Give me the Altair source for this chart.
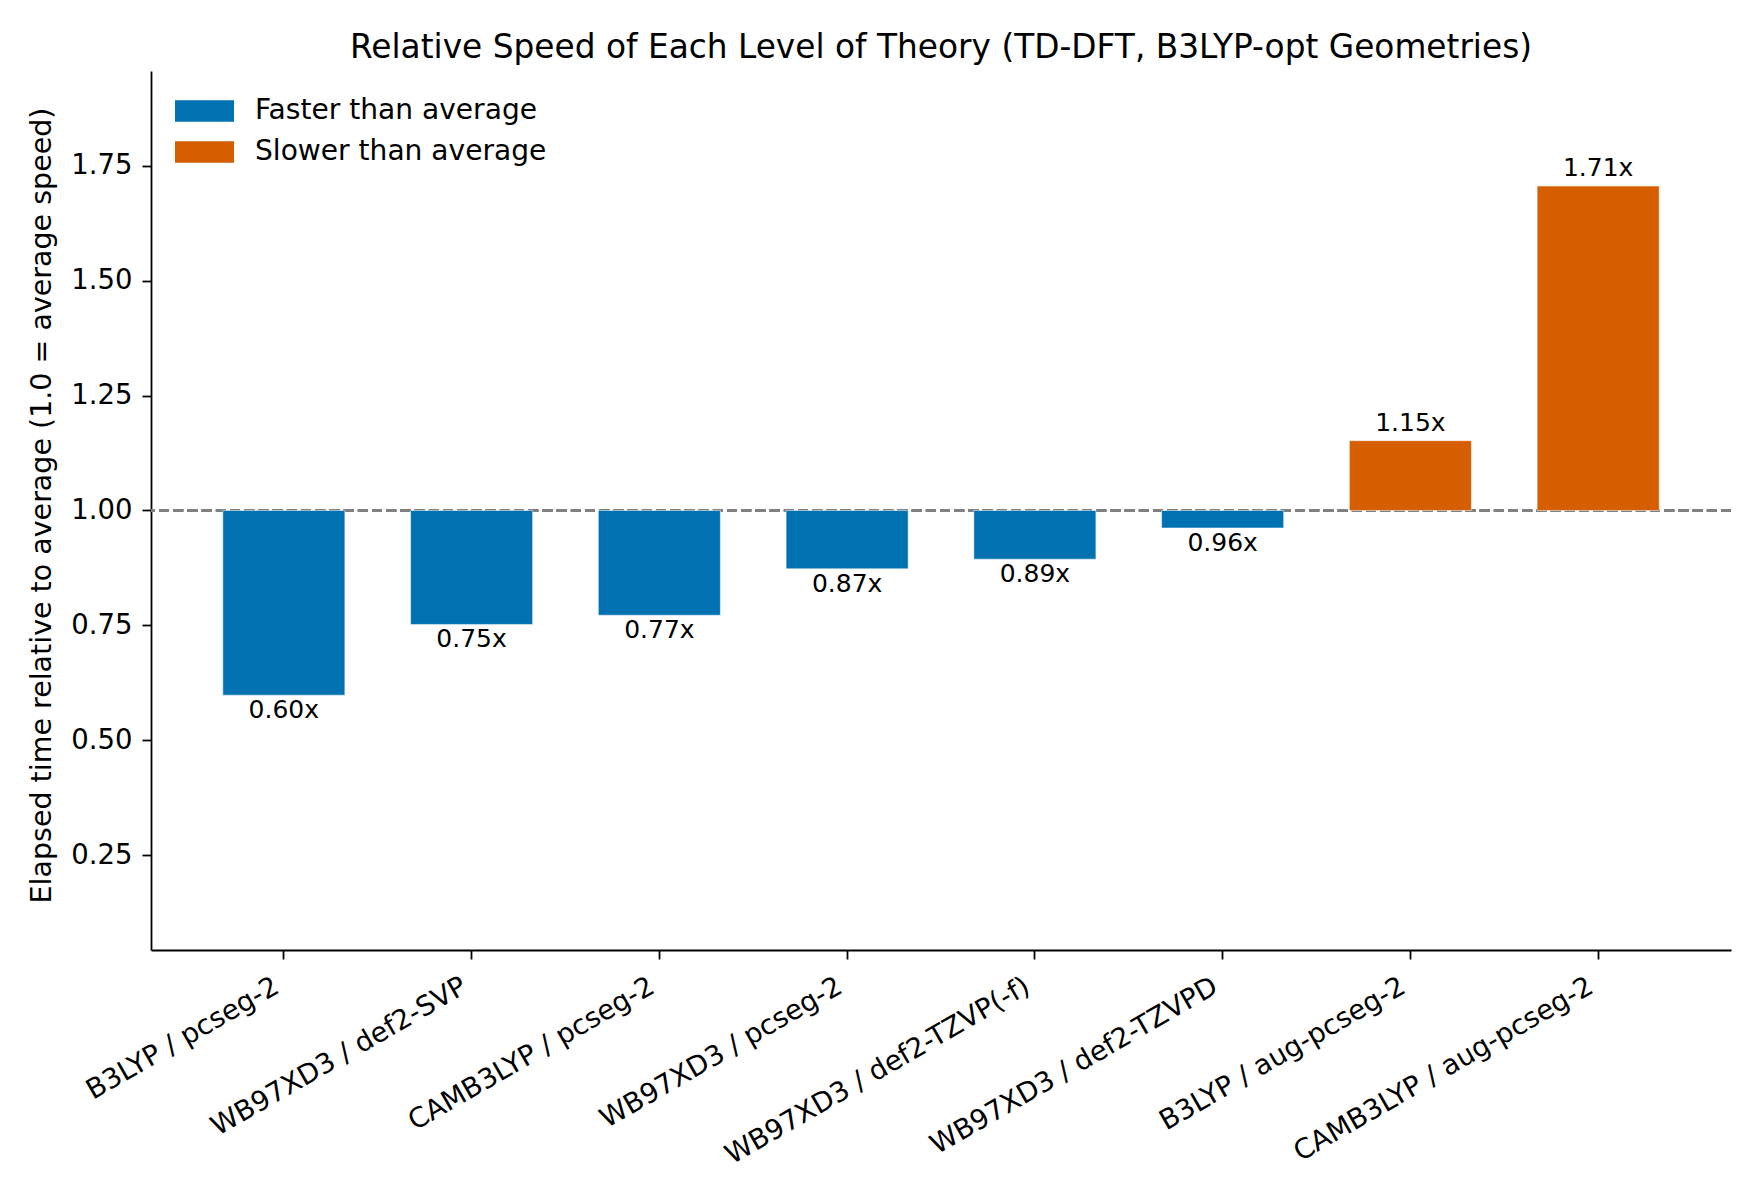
import altair as alt
import pandas as pd

# ---- data ----
levels = [
    "B3LYP / pcseg-2",
    "WB97XD3 / def2-SVP",
    "CAMB3LYP / pcseg-2",
    "WB97XD3 / pcseg-2",
    "WB97XD3 / def2-TZVP(-f)",
    "WB97XD3 / def2-TZVPD",
    "B3LYP / aug-pcseg-2",
    "CAMB3LYP / aug-pcseg-2",
]
relative_time = [0.598, 0.752, 0.772, 0.873, 0.894, 0.962, 1.152, 1.706]
groups = ["Faster than average", "Slower than average"]
colors = ["#0072B2", "#D55E00"]
y_ticks = [0.25, 0.50, 0.75, 1.00, 1.25, 1.50, 1.75]
y_domain = [0.0435, 1.9565]

df = pd.DataFrame({"level": levels, "rel": relative_time})
df["group"] = [groups[0] if v < 1 else groups[1] for v in relative_time]
df["txt"] = [f"{v:.2f}x" for v in relative_time]

FONT = "DejaVu Sans"

x_enc = alt.X(
    "level:N",
    sort=levels,
    title=None,
    scale=alt.Scale(paddingInner=0.35, paddingOuter=0.3825),
    axis=alt.Axis(
        labelAngle=-30,
        labelAlign="right",
        labelBaseline="top",
        labelPadding=13,
        labelOffset=-14,
        labelLimit=1000,
    ),
)
y_scale = alt.Scale(domain=y_domain, nice=False, zero=False)

base = alt.Chart(df)

rule = base.mark_rule(
    color="#808080", strokeWidth=2.67, strokeDash=[9.9, 4.3]
).encode(y=alt.datum(1.0))

bars = base.mark_bar(stroke="white", strokeWidth=1, strokeOpacity=0.5).encode(
    x=x_enc,
    y=alt.Y(
        "rel:Q",
        scale=y_scale,
        title="Elapsed time relative to average (1.0 = average speed)",
        axis=alt.Axis(
            values=y_ticks,
            format=".2f",
            labelPadding=10,
            titleX=-101,
            titleY=434,
            titleAngle=-90,
            titleBaseline="alphabetic",
            titleAlign="center",
            titleFontSize=28.5,
        ),
    ),
    y2=alt.datum(1.0),
    color=alt.Color(
        "group:N",
        title=None,
        scale=alt.Scale(domain=groups, range=colors),
        legend=alt.Legend(
            orient="none",
            legendX=33,
            legendY=19.5,
            padding=0,
            symbolType="M-1.439,-0.52H1.439V0.52H-1.439Z",
            symbolSize=1681,
            symbolStrokeWidth=0,
            symbolOpacity=1,
            labelFontSize=28.1,
            labelFont=FONT,
            labelColor="black",
            labelOffset=30,
            labelLimit=1000,
            rowPadding=6,
        ),
    ),
)

text_below = base.transform_filter("datum.rel < 1").mark_text(
    fontSize=25, font=FONT, color="black", baseline="alphabetic", dy=23
).encode(x=alt.X("level:N", sort=levels), y=alt.Y("rel:Q"), text="txt:N")

text_above = base.transform_filter("datum.rel >= 1").mark_text(
    fontSize=25, font=FONT, color="black", baseline="alphabetic", dy=-10
).encode(x=alt.X("level:N", sort=levels), y=alt.Y("rel:Q"), text="txt:N")

chart = (
    alt.layer(rule, bars, text_below, text_above)
    .properties(
        width=1580,
        height=879,
        title=alt.TitleParams(
            "Relative Speed of Each Level of Theory (TD-DFT, B3LYP-opt Geometries)",
            fontSize=32.8,
            font=FONT,
            fontWeight="normal",
            color="black",
            anchor="middle",
            frame="group",
            baseline="alphabetic",
            offset=15,
            dy=35,
        ),
        autosize=alt.AutoSizeParams(type="none"),
        padding={"left": 143, "top": 63, "right": 21, "bottom": 242},
    )
    .configure(font=FONT)
    .configure_view(strokeWidth=0)
    .configure_axis(
        grid=False,
        domainColor="black",
        domainWidth=1.78,
        tickColor="black",
        tickWidth=1.78,
        tickSize=9,
        labelColor="black",
        labelFontSize=27.5,
        labelFont=FONT,
        titleFont=FONT,
        titleFontSize=28.5,
        titleFontWeight="normal",
        titleColor="black",
    )
)

chart.save("out.html", embed_options={"renderer": "svg", "actions": False})
